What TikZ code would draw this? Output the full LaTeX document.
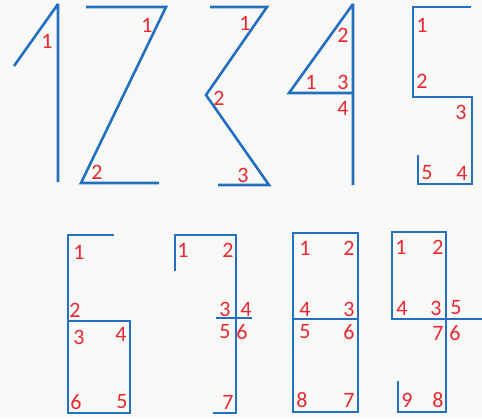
\documentclass[tikz,border=0pt]{standalone}
\usepackage{fontspec}
\setmainfont{Carlito}
\definecolor{strokeblue}{RGB}{36,112,192}
\definecolor{numred}{RGB}{232,40,50}
\definecolor{bgcol}{RGB}{248,248,246}
\begin{document}
\begin{tikzpicture}[x=1pt,y=-1pt,
  stroke/.style={draw=strokeblue,line width=2.6pt,line join=miter,miter limit=3},
  lab/.style={text=numred,font=\fontsize{22}{22}\selectfont,inner sep=0pt,anchor=center}]
\fill[bgcol] (0,0) rectangle (482,418);
\useasboundingbox (0,0) rectangle (482,418);
% digit 1
\draw[stroke] (14,66) -- (58,4) -- (58,182);
\node[lab] (a1) at (47,41) {1};
% digit 2
\draw[stroke] (86,7) -- (166,7) -- (81,183) -- (159,183);
\node[lab] (b1) at (147,25) {1};
\node[lab] (b2) at (97,172) {2};
% digit 3
\draw[stroke] (210,7) -- (267,7) -- (206,95) -- (269,185) -- (218,185);
\node[lab] (c1) at (245,23) {1};
\node[lab] (c2) at (219,98) {2};
\node[lab] (c3) at (243,175) {3};
% digit 4
\draw[stroke] (353,185) -- (353,4) -- (289,93) -- (353,93);
\node[lab] (d2) at (343,35) {2};
\node[lab] (d1) at (311,82) {1};
\node[lab] (d3) at (343,82) {3};
\node[lab] (d4) at (343,108) {4};
% digit 5
\draw[stroke] (471,7) -- (413,7) -- (413,97) -- (472,97) -- (472,184) -- (418,184) -- (418,155);
\node[lab] (e1) at (422,25) {1};
\node[lab] (e2) at (422,81) {2};
\node[lab] (e3) at (461,112) {3};
\node[lab] (e5) at (427,173) {5};
\node[lab] (e4) at (462,173) {4};
% digit 6
\draw[stroke] (114,235) -- (68,235) -- (68,413) -- (130,413) -- (130,321) -- (68,321);
\node[lab] (f1) at (79,252) {1};
\node[lab] (f2) at (75,310) {2};
\node[lab] (f3) at (79,337) {3};
\node[lab] (f4) at (121,334) {4};
\node[lab] (f6) at (76,402) {6};
\node[lab] (f5) at (122,402) {5};
% digit 7
\draw[stroke] (175,271) -- (175,235) -- (236,235) -- (236,413) -- (213,413);
\draw[stroke] (216,318) -- (252,318);
\node[lab] (g1) at (183,250) {1};
\node[lab] (g2) at (228,250) {2};
\node[lab] (g3) at (225,309) {3};
\node[lab] (g4) at (246,309) {4};
\node[lab] (g5) at (225,332) {5};
\node[lab] (g6) at (242,332) {6};
\node[lab] (g7) at (228,402) {7};
% digit 8
\draw[stroke] (293,233) rectangle (358,412);
\draw[stroke] (293,319) -- (358,319);
\node[lab] (h1) at (305,248) {1};
\node[lab] (h2) at (349,248) {2};
\node[lab] (h4) at (305,309) {4};
\node[lab] (h3) at (349,309) {3};
\node[lab] (h5) at (305,332) {5};
\node[lab] (h6) at (349,332) {6};
\node[lab] (h8) at (302,400) {8};
\node[lab] (h7) at (349,400) {7};
% digit 9
\draw[stroke] (446,319) -- (392,319) -- (392,232) -- (446,232) -- (446,412) -- (398,412) -- (398,381);
\draw[stroke] (446,319) -- (482,319);
\node[lab] (i1) at (401,247) {1};
\node[lab] (i2) at (438,247) {2};
\node[lab] (i4) at (402,308) {4};
\node[lab] (i3) at (436,308) {3};
\node[lab] (i5) at (456,308) {5};
\node[lab] (i7) at (438,333) {7};
\node[lab] (i6) at (455,333) {6};
\node[lab] (i9) at (407,400) {9};
\node[lab] (i8) at (438,400) {8};
\end{tikzpicture}
\end{document}
